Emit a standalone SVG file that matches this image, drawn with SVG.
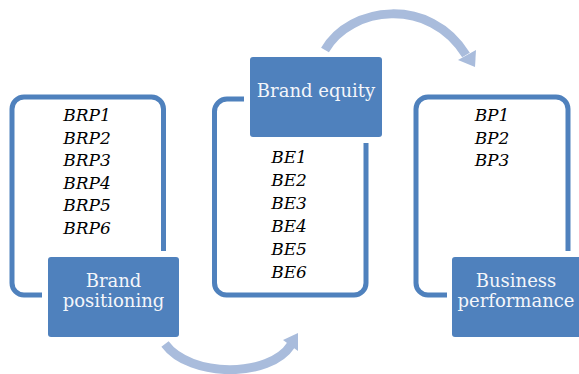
<svg xmlns="http://www.w3.org/2000/svg" width="579" height="374" viewBox="0 0 579 374">
<style>
.frame{fill:none;stroke:#4F81BD;stroke-width:5}
.box{fill:#4F81BD}
.btxt{font-family:"DejaVu Serif",serif;font-size:18px;fill:#F4F6FA;text-anchor:middle}
.itm{font-family:"DejaVu Serif",serif;font-size:17px;font-style:italic;fill:#000;text-anchor:middle}
.arr{fill:none;stroke:#A9BCDC;stroke-width:9}
.head{fill:#A9BCDC}
</style>
<rect width="579" height="374" fill="#fff"/>
<g id="connectors">
<path class="arr" d="M165,344 C190,378 270,378 291,345"/>
<polygon class="head" points="298,333 283,340 298,351"/>
<path class="arr" d="M325,50 C350,6 430,-4 466,55"/>
<polygon class="head" points="475,67 458,60 476,50"/>
</g>
<g id="brand-positioning">
<path class="frame" d="M42,295 H24 A12,12 0 0 1 12,283 V109 A12,12 0 0 1 24,97 H151.5 A12,12 0 0 1 163.5,109 V251"/>
<text class="itm" x="87" y="121">BRP1</text>
<text class="itm" x="87" y="143.6">BRP2</text>
<text class="itm" x="87" y="166.2">BRP3</text>
<text class="itm" x="87" y="188.8">BRP4</text>
<text class="itm" x="87" y="211.4">BRP5</text>
<text class="itm" x="87" y="234">BRP6</text>
<rect class="box" x="48" y="257" width="131" height="80" rx="3"/>
<text class="btxt" x="113.5" y="287">Brand</text>
<text class="btxt" x="113.5" y="307">positioning</text>
</g>
<g id="brand-equity">
<path class="frame" d="M244,99 H227 A12.5,12.5 0 0 0 214.5,111.5 V283 A12,12 0 0 0 226.5,295 H354 A12,12 0 0 0 366,283 V143"/>
<rect class="box" x="250" y="57" width="132" height="80" rx="3"/>
<text class="btxt" x="316" y="97">Brand equity</text>
<text class="itm" x="289" y="163">BE1</text>
<text class="itm" x="289" y="186">BE2</text>
<text class="itm" x="289" y="209">BE3</text>
<text class="itm" x="289" y="232">BE4</text>
<text class="itm" x="289" y="255">BE5</text>
<text class="itm" x="289" y="278">BE6</text>
</g>
<g id="business-performance">
<path class="frame" d="M447,295 H428 A12,12 0 0 1 416,283 V109 A12,12 0 0 1 428,97 H556 A12,12 0 0 1 568,109 V251"/>
<text class="itm" x="492" y="121">BP1</text>
<text class="itm" x="492" y="143.6">BP2</text>
<text class="itm" x="492" y="166.2">BP3</text>
<rect class="box" x="452" y="257" width="130" height="80" rx="3"/>
<text class="btxt" x="516" y="287">Business</text>
<text class="btxt" x="516" y="307">performance</text>
</g>
</svg>
